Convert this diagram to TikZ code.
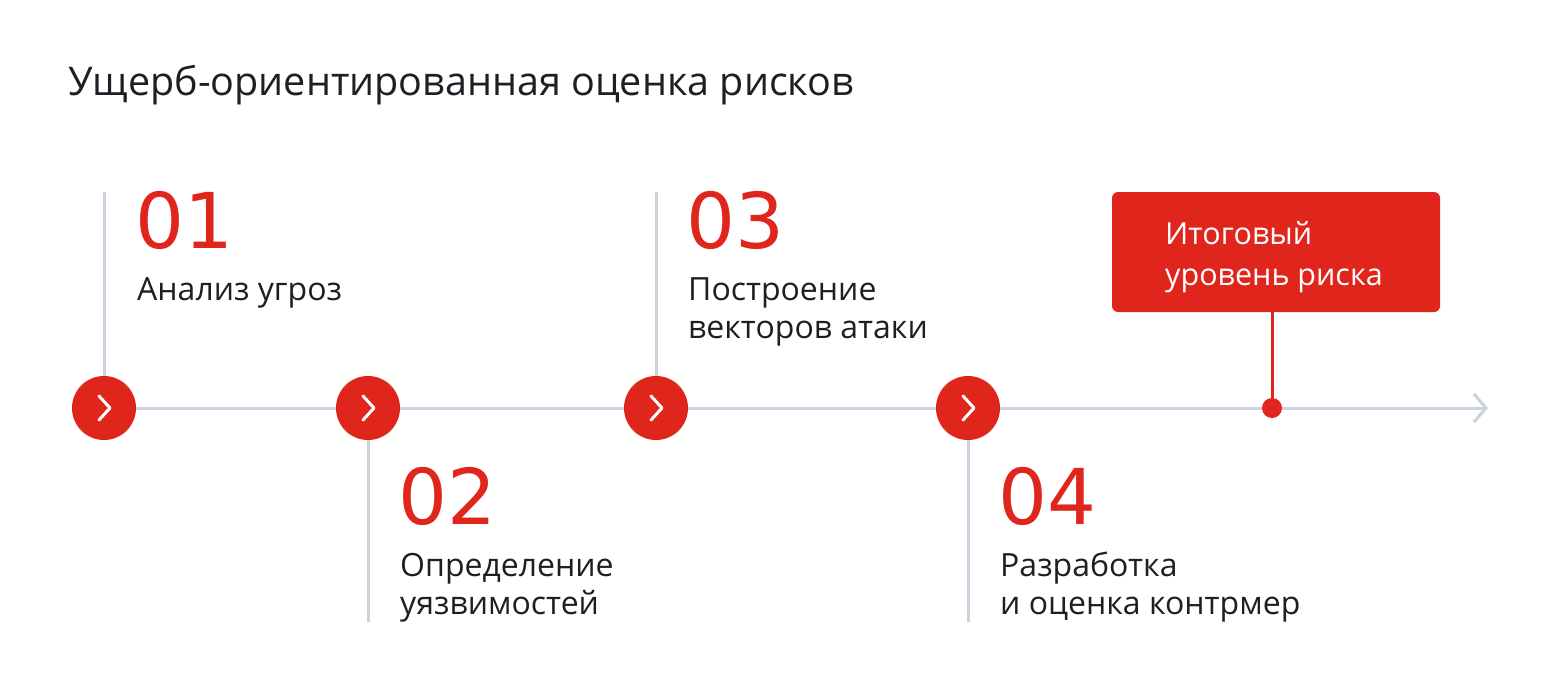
\documentclass[tikz,border=0pt]{standalone}
\usepackage{fontspec}
\setmainfont{Open Sans}
\newfontfamily\numfont{DejaVu Sans}
\usetikzlibrary{arrows.meta}
\definecolor{riskred}{HTML}{E0261C}
\definecolor{railgrey}{HTML}{CBD3DE}
\definecolor{inkdark}{HTML}{1E1F24}
\begin{document}
\begin{tikzpicture}[x=1pt,y=-1pt]
        \tikzstyle{stage}=[circle,fill=riskred,minimum size=64pt,inner sep=0pt]
        \tikzstyle{rail}=[draw=railgrey,line width=3pt]
        \tikzstyle{chev}=[draw=white,line width=3pt,line cap=round,line join=round]
        \tikzstyle{num}=[anchor=base west,inner sep=0pt,text=riskred,font=\numfont\fontsize{77}{77}\selectfont]
        \tikzstyle{stagetext}=[anchor=base west,inner sep=0pt,align=left,text=inkdark,font=\fontsize{32}{38}\selectfont]
        \useasboundingbox[fill=white] (0,0) rectangle (1560,696);
        \node [anchor=base west,inner sep=0pt,text=inkdark,font=\fontsize{39.5}{44}\selectfont] (title) at (68,95) {Ущерб-ориентированная оценка рисков};
        % timeline
        \node [stage] (c1) at (104,408) {};
        \node [stage] (c2) at (368,408) {};
        \node [stage] (c3) at (656,408) {};
        \node [stage] (c4) at (968,408) {};
        \coordinate (t1) at (104,192);
        \coordinate (b2) at (368,622);
        \coordinate (t3) at (656,192);
        \coordinate (b4) at (968,622);
        \coordinate (railend) at (1488,408);
        \node [circle,fill=riskred,minimum size=20pt,inner sep=0pt] (dot) at (1272,408) {};
        \path[rail] (c1) -- (c2);
        \path[rail] (c2) -- (c3);
        \path[rail] (c3) -- (c4);
        \path[rail] (c4) -- (dot);
        \path[rail,-{Straight Barb[length=12pt,width=28pt]}] (dot) -- (railend);
        \path[rail] (t1) -- (c1);
        \path[rail] (b2) -- (c2);
        \path[rail] (t3) -- (c3);
        \path[rail] (b4) -- (c4);
        \foreach \c in {c1,c2,c3,c4}
          \draw[chev] ([shift={(-5,-12)}]\c.center) -- ([shift={(6,0)}]\c.center) -- ([shift={(-5,12)}]\c.center);
        % stages
        \node [num] (n1) at (135,248) {01};
        \node [stagetext] (s1) at (137,300) {Анализ угроз};
        \node [num] (n2) at (398,524) {02};
        \node [stagetext] (s2) at (400,614) {Определение\\уязвимостей};
        \node [num] (n3) at (686,248) {03};
        \node [stagetext] (s3) at (688,338) {Построение\\векторов атаки};
        \node [num] (n4) at (998,524) {04};
        \node [stagetext] (s4) at (1000,614) {Разработка\\и оценка контрмер};
        % result
        \node [fill=riskred,rounded corners=6pt,minimum width=328pt,minimum height=120pt,inner sep=0pt] (box) at (1276,252) {};
        \node [anchor=base west,inner sep=0pt,align=left,text=white,font=\fontsize{30.5}{41}\selectfont] (boxtext) at (1165,285) {Итоговый\\уровень риска};
        \draw[riskred,line width=3pt] (dot) -- (dot |- box.south);
\end{tikzpicture}
\end{document}
